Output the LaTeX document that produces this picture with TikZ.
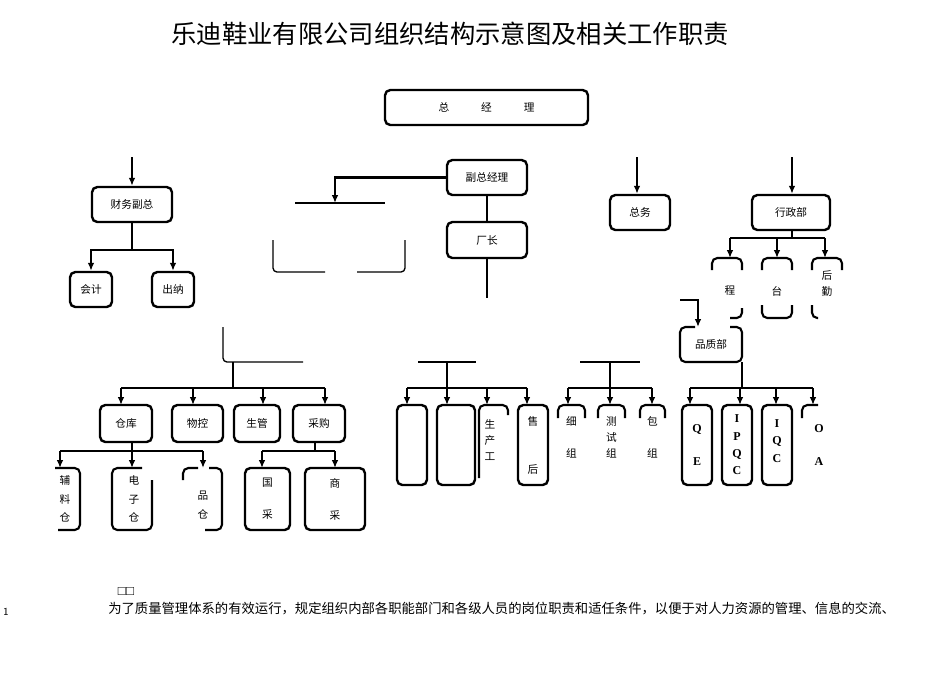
\documentclass[tikz,border=0pt]{standalone}
\usepackage{fontspec}
\setmainfont{Liberation Serif}
\newfontfamily\cjk{Noto Sans CJK SC}
\usetikzlibrary{arrows.meta,fit}
\begin{document}
\begin{tikzpicture}[x=0.75pt,y=-0.75pt,
  bx/.style={draw,line width=1.8pt,rounded corners=4pt,inner sep=0pt},
  ghost/.style={inner sep=0pt},
  ln/.style={line width=1.6pt},
  thin/.style={line width=1pt},
  arr/.style={line width=1.6pt,-{Latex[length=6pt,width=5pt]}},
  tx/.style={font=\cjk\fontsize{8}{10}\selectfont,align=center},
  lat/.style={font=\bfseries\fontsize{9}{13}\selectfont,align=center}]
\useasboundingbox (0,0) rectangle (950,672);
% title
\node[font=\cjk\fontsize{19}{22}\selectfont] (title) at (450,34) {乐迪鞋业有限公司组织结构示意图及相关工作职责};
% top
\node[bx,fit={(385,90) (588,125)}] (gm) {};
\node[tx] at (gm) {总\hspace{3em}经\hspace{3em}理};
\coordinate (t1) at (132,157); \coordinate (t2) at (637,157); \coordinate (t3) at (792,157);
\node[bx,fit={(92,187) (172,222)}] (cf) {}; \node[tx] at (cf) {财务副总};
\node[bx,fit={(610,195) (670,230)}] (zw) {}; \node[tx] at (zw) {总务};
\node[bx,fit={(752,195) (830,230)}] (xz) {}; \node[tx] at (xz) {行政部};
\node[bx,fit={(447,160) (527,195)}] (fz) {}; \node[tx] at (fz) {副总经理};
\node[bx,fit={(447,222) (527,258)}] (cz) {}; \node[tx] at (cz) {厂长};
\draw[arr] (t1) -- (t1 |- cf.north);
\draw[arr] (t2) -- (t2 |- zw.north);
\draw[arr] (t3) -- (t3 |- xz.north);
% vice GM left branch
\coordinate (fl) at (335,203);
\draw[arr] (fz.west) -| (fl);
\draw[thin] (295,203) -- (385,203);
\draw[thin,rounded corners=3pt] (273,240) -- (273,272) -- (325,272);
\draw[thin,rounded corners=3pt] (357,272) -- (405,272) -- (405,240);
\draw[ln] (fz.south) -- (cz.north);
\coordinate (czend) at (487,298);
\draw[ln] (cz.south) -- (czend);
% finance
\node[bx,fit={(70,272) (112,307)}] (kj) {}; \node[tx] at (kj) {会计};
\node[bx,fit={(152,272) (194,307)}] (cn) {}; \node[tx] at (cn) {出纳};
\coordinate (fb) at (132,250);
\draw[ln] (fb |- cf.south) -- (fb);
\draw[arr] (fb) -| (kj.north);
\draw[arr] (fb) -| (cn.north);
% left lower group
\coordinate (la) at (223,327); \coordinate (lb) at (233,362); \coordinate (lc) at (233,388);
\draw[thin,rounded corners=3pt] (la) -- (223,362) -- (303,362);
\draw[ln] (lb) -- (lc);
\node[bx,fit={(100,405) (152,442)}] (ck) {}; \node[tx] at (ck) {仓库};
\node[bx,fit={(172,405) (223,442)}] (wk) {}; \node[tx] at (wk) {物控};
\node[bx,fit={(234,405) (280,442)}] (sg) {}; \node[tx] at (sg) {生管};
\node[bx,fit={(293,405) (345,442)}] (cg) {}; \node[tx] at (cg) {采购};
\draw[ln] (121,388) -- (325,388);
\draw[arr] (121,388) -- (121,405);
\draw[arr] (193,388) -- (193,405);
\draw[arr] (263,388) -- (263,405);
\draw[arr] (325,388) -- (325,405);
% under warehouse
\coordinate (ckb) at (132,451);
\draw[ln] (ck.south -| ckb) -- (ckb);
\draw[ln] (60,451) -- (203,451);
\node[ghost,fit={(45,468) (80,530)}] (fl1) {};
\node[ghost,fit={(112,468) (152,530)}] (dz) {};
\node[ghost,fit={(183,468) (222,530)}] (cp) {};
\draw[arr] (60,451) -- (60,468);
\draw[arr] (132,451) -- (132,468);
\draw[arr] (203,451) -- (203,468);
\draw[ln,rounded corners=4pt] (55,468) -- (80,468) -- (80,530) -- (58,530);
\draw[ln,rounded corners=4pt] (142,468) -- (112,468) -- (112,530) -- (152,530) -- (152,480);
\draw[ln,rounded corners=4pt] (183,480) -- (183,468) -- (198,468);
\draw[ln,rounded corners=4pt] (209,468) -- (222,468) -- (222,530) -- (205,530);
\node[tx] at (65,499) {辅\\[4pt]料\\[4pt]仓};
\node[tx] at (134,499) {电\\[4pt]子\\[4pt]仓};
\node[tx] at (203,505) {品\\[4pt]仓};
% under purchase
\coordinate (cgb) at (315,451);
\draw[ln] (cg.south -| cgb) -- (cgb);
\draw[ln] (262,451) -- (335,451);
\node[bx,fit={(245,468) (290,530)}] (gc) {}; \node[tx] at (gc) {国\\[14pt]采};
\node[bx,fit={(305,468) (365,530)}] (sc) {}; \node[tx] at (sc) {商\\[14pt]采};
\draw[arr] (262,451) -- (262,468);
\draw[arr] (335,451) -- (335,468);
% middle group
\draw[thin] (418,362) -- (476,362);
\draw[ln] (447,362) -- (447,388);
\draw[ln] (407,388) -- (527,388);
\node[bx,fit={(397,405) (427,485)}] (m1) {};
\node[bx,fit={(437,405) (475,485)}] (m2) {};
\node[ghost,fit={(477,405) (508,485)}] (m3) {};
\draw[ln,rounded corners=4pt] (479,478) -- (479,405) -- (508,405) -- (508,415);
\node[bx,fit={(518,405) (548,485)}] (sh) {};
\node[tx] at (490,440) {生\\[2pt]产\\[2pt]工};
\node[tx] at (533,445) {售\\[26pt]后};
\draw[arr] (407,388) -- (407,405);
\draw[arr] (447,388) -- (447,405);
\draw[arr] (487,388) -- (487,405);
\draw[arr] (527,388) -- (527,405);
% right-middle group
\draw[thin] (580,362) -- (640,362);
\draw[ln] (610,362) -- (610,388);
\draw[ln] (568,388) -- (652,388);
\foreach \xa/\xb in {558/585,598/625,640/665}{
  \draw[ln,rounded corners=4pt] (\xa,418) -- (\xa,405) -- (\xb,405) -- (\xb,418);}
\node[ghost,fit={(558,405) (585,470)}] (g1) {};
\node[ghost,fit={(598,405) (625,470)}] (g2) {};
\node[ghost,fit={(640,405) (665,470)}] (g3) {};
\node[tx] at (g1) {细\\[14pt]组};
\node[tx] at (g2) {测\\[2pt]试\\[2pt]组};
\node[tx] at (g3) {包\\[14pt]组};
\draw[arr] (568,388) -- (568,405);
\draw[arr] (610,388) -- (610,405);
\draw[arr] (652,388) -- (652,405);
% admin
\coordinate (xzb) at (792,238);
\draw[ln] (xzb |- xz.south) -- (xzb);
\draw[ln] (730,238) -- (825,238);
\node[ghost,fit={(712,258) (742,318)}] (a1) {};
\node[ghost,fit={(762,258) (792,318)}] (a2) {};
\node[ghost,fit={(812,258) (842,318)}] (a3) {};
\draw[arr] (730,238) -- (730,258);
\draw[arr] (777,238) -- (777,258);
\draw[arr] (825,238) -- (825,258);
\foreach \xa/\xb in {712/742,762/792,812/842}{
  \draw[ln,rounded corners=4pt] (\xa,270) -- (\xa,258) -- (\xb,258) -- (\xb,270);}
\draw[ln,rounded corners=4pt] (730,318) -- (742,318) -- (742,308);
\draw[ln,rounded corners=4pt] (762,305) -- (762,318) -- (792,318) -- (792,305);
\draw[ln,rounded corners=4pt] (812,305) -- (812,318) -- (818,318);
\node[tx] at (730,291) {程};
\node[tx] at (777,291) {台};
\node[tx] at (827,284) {后\\[2pt]勤};
% quality
\node[ghost,fit={(680,327) (742,362)}] (pz) {};
\draw[ln,rounded corners=4pt] (695,327) -- (680,327) -- (680,362) -- (742,362) -- (742,327) -- (730,327);
\node[tx] at (pz) {品质部};
\coordinate (pq) at (680,300);
\draw[arr] (pq) -- (698,300) -- (698,327);
\coordinate (pzb) at (742,388);
\draw[ln] (pzb |- pz.south) -- (pzb);
\draw[ln] (690,388) -- (813,388);
\node[bx,fit={(682,405) (712,485)}] (qe) {}; \node[lat] at (qe) {Q\\[12pt]E};
\node[bx,fit={(722,405) (752,485)}] (ipqc) {}; \node[lat] at (ipqc) {I\\P\\Q\\C};
\node[bx,fit={(762,405) (792,485)}] (iqc) {}; \node[lat,anchor=north] at (777,415) {I\\Q\\C};
\node[ghost,fit={(802,405) (832,485)}] (qa) {};
\draw[ln,rounded corners=4pt] (802,418) -- (802,405) -- (818,405);
\node[lat,anchor=north] at (819,420) {O\\[12pt]A};
\draw[arr] (690,388) -- (690,405);
\draw[arr] (740,388) -- (740,405);
\draw[arr] (776,388) -- (776,405);
\draw[arr] (813,388) -- (813,405);
% bottom text
\node[font=\fontsize{10}{12}\selectfont] at (126,592) {□□};
\node[font=\sffamily\fontsize{8}{10}\selectfont] at (6,612) {1};
\node[anchor=west,font=\cjk\fontsize{10}{12}\selectfont,inner sep=0pt] at (108,609) {为了质量管理体系的有效运行，规定组织内部各职能部门和各级人员的岗位职责和适任条件，以便于对人力资源的管理、信息的交流、};
\end{tikzpicture}
\end{document}
